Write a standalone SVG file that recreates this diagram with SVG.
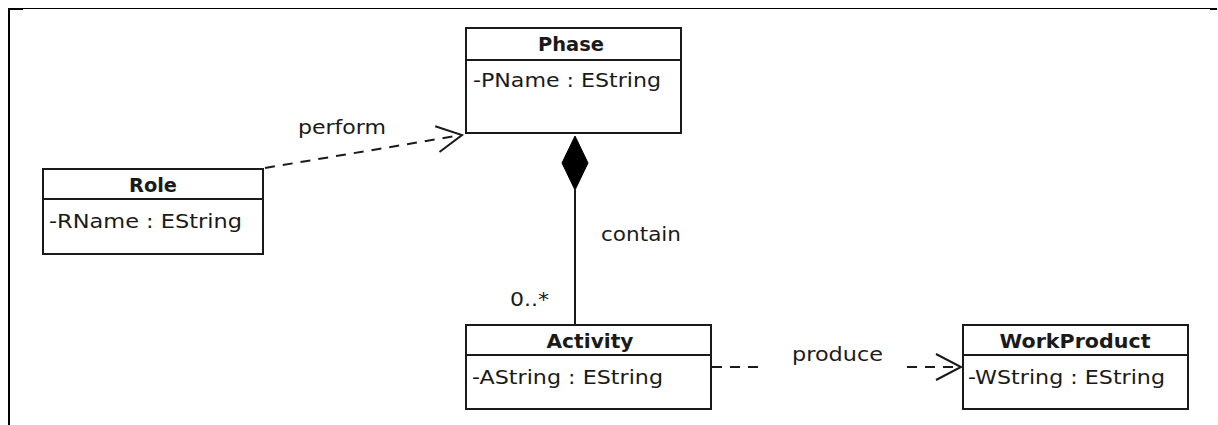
<svg xmlns="http://www.w3.org/2000/svg" width="1218" height="425" viewBox="0 0 1218 425">
<style>
.box{fill:#fff;stroke:#1a1a1a;stroke-width:2}
.div{stroke:#1a1a1a;stroke-width:2}
.t{font-family:"DejaVu Sans","Liberation Sans",sans-serif;font-size:19px;fill:#1a1a1a}
.b{font-weight:bold;text-anchor:middle}
.dash{fill:none;stroke:#1a1a1a;stroke-width:2;stroke-dasharray:10 8}
.line{fill:none;stroke:#1a1a1a;stroke-width:2}
</style>
<defs>
<marker id="open" markerUnits="userSpaceOnUse" markerWidth="30" markerHeight="30" refX="26" refY="14" orient="auto" viewBox="0 0 30 28">
<path d="M1,1 L26,14 L1,27" fill="none" stroke="#1a1a1a" stroke-width="2"/>
</marker>
</defs>
<rect width="1218" height="425" fill="#fff"/>
<g id="frame">
<rect x="8" y="8" width="2" height="417" fill="#000"/>
<line x1="8" y1="8.5" x2="1217" y2="8.5" stroke="#000" stroke-width="1"/>
<rect x="8" y="8" width="15" height="2" fill="#000"/>
<rect x="1210" y="8" width="7" height="2" fill="#000"/>
</g>
<g id="connectors">
<line class="dash" x1="265" y1="168" x2="462" y2="135" marker-end="url(#open)"/>
<line class="line" x1="575" y1="190" x2="575" y2="324"/>
<polygon points="575,136 588,163 575,190 562,163" fill="#000" stroke="#000" stroke-width="1"/>
<line class="dash" x1="712" y1="367" x2="766" y2="367"/>
<line class="dash" x1="907" y1="367" x2="961" y2="367" marker-end="url(#open)"/>
<text class="t" x="298" y="134" textLength="88" lengthAdjust="spacingAndGlyphs">perform</text>
<text class="t" x="601" y="241" textLength="80" lengthAdjust="spacingAndGlyphs">contain</text>
<text class="t" x="510" y="306" textLength="39" lengthAdjust="spacingAndGlyphs">0..*</text>
<text class="t" x="792" y="361" textLength="91" lengthAdjust="spacingAndGlyphs">produce</text>
</g>
<g id="Phase">
<rect class="box" x="466" y="28" width="215" height="105"/>
<line class="div" x1="466" y1="60" x2="681" y2="60"/>
<text class="t b" x="571" y="51" textLength="66" lengthAdjust="spacingAndGlyphs">Phase</text>
<text class="t" x="473" y="87" textLength="188" lengthAdjust="spacingAndGlyphs">-PName : EString</text>
</g>
<g id="Role">
<rect class="box" x="43" y="169" width="220" height="85"/>
<line class="div" x1="43" y1="199" x2="263" y2="199"/>
<text class="t b" x="153" y="192" textLength="48" lengthAdjust="spacingAndGlyphs">Role</text>
<text class="t" x="49" y="228" textLength="193" lengthAdjust="spacingAndGlyphs">-RName : EString</text>
</g>
<g id="Activity">
<rect class="box" x="466" y="325" width="245" height="84"/>
<line class="div" x1="466" y1="355" x2="711" y2="355"/>
<text class="t b" x="590" y="348" textLength="87" lengthAdjust="spacingAndGlyphs">Activity</text>
<text class="t" x="472" y="384" textLength="191" lengthAdjust="spacingAndGlyphs">-AString : EString</text>
</g>
<g id="WorkProduct">
<rect class="box" x="963" y="325" width="225" height="84"/>
<line class="div" x1="963" y1="355" x2="1188" y2="355"/>
<text class="t b" x="1075" y="348" textLength="151" lengthAdjust="spacingAndGlyphs">WorkProduct</text>
<text class="t" x="968" y="384" textLength="197" lengthAdjust="spacingAndGlyphs">-WString : EString</text>
</g>
</svg>
